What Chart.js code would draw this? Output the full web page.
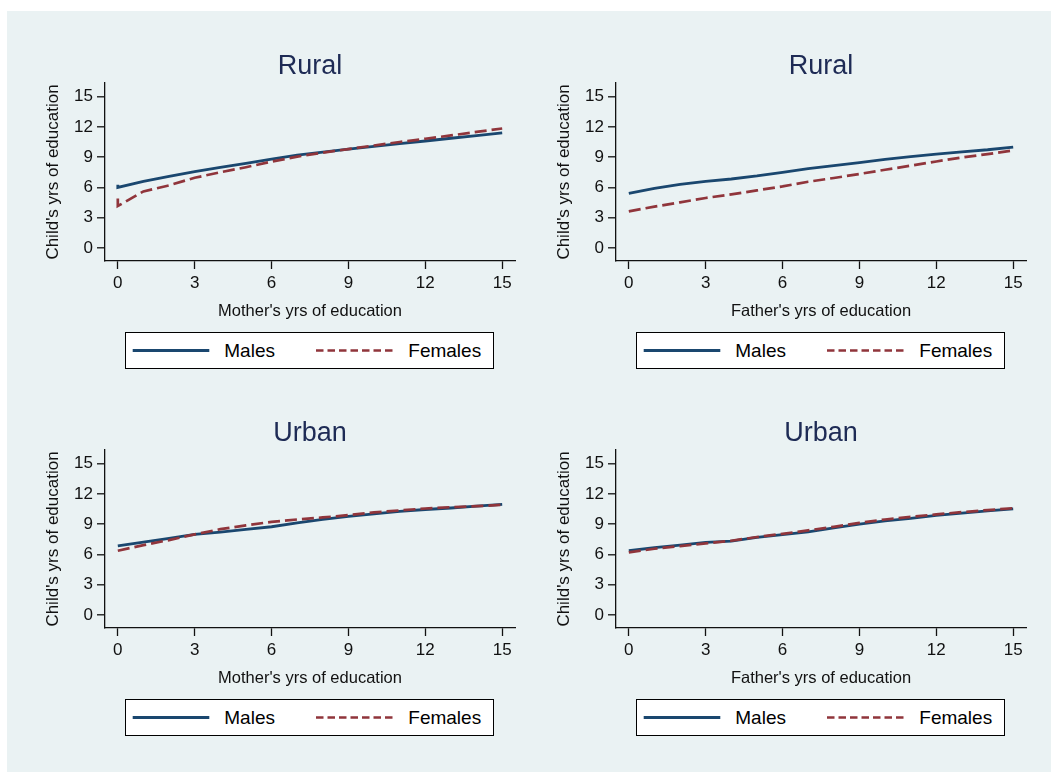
<!DOCTYPE html>
<html>
<head>
<meta charset="utf-8">
<script src="https://cdn.jsdelivr.net/npm/chart.js@4.4.1/dist/chart.umd.min.js"></script>
<style>
  body { margin: 0; background: #fff; width: 1051px; height: 773px; overflow: hidden; position: relative;
         font-family: "Liberation Sans", Arial, sans-serif; }
  #bg { position: absolute; left: 7px; top: 11px; width: 1044px; height: 761px; background: #eaf2f3; }
  canvas { position: absolute; }
  .legend { position: absolute; width: 367px; height: 35px; background: #fff; border: 1px solid #000; }
  .legend svg { position: absolute; left: 0; top: 0; }
  .legend span { position: absolute; top: 0; line-height: 35px; font-size: 19px; color: #000; }
</style>
</head>
<body>
<div id="bg"></div>
<canvas id="c1" width="490" height="290" style="left:40px;top:40px"></canvas>
<canvas id="c2" width="490" height="290" style="left:551px;top:40px"></canvas>
<canvas id="c3" width="490" height="290" style="left:40px;top:407px"></canvas>
<canvas id="c4" width="490" height="290" style="left:551px;top:407px"></canvas>
<div id="legends"></div>
<script>
// Parent's years of schooling (x) and predicted child's years of schooling (y)
const years = [0, 1, 2, 3, 4, 5, 6, 7, 8, 9, 10, 11, 12, 13, 14, 15];
const ruralMotherYears = [0, 0, 1, 2, 3, 4, 5, 6, 7, 8, 9, 10, 11, 12, 13, 14, 15];
const xTicks = [0, 3, 6, 9, 12, 15];
const yTicks = [0, 3, 6, 9, 12, 15];

const ruralMotherMales   = [6.25, 6.0, 6.6, 7.08, 7.55, 7.98, 8.37, 8.8, 9.2, 9.5, 9.8, 10.07, 10.33, 10.6, 10.87, 11.13, 11.4];
const ruralMotherFemales = [4.9, 4.15, 5.6, 6.2, 6.95, 7.5, 8.0, 8.55, 9.05, 9.45, 9.8, 10.15, 10.5, 10.82, 11.15, 11.5, 11.84];
const ruralFatherMales   = [5.41, 5.9, 6.3, 6.6, 6.83, 7.13, 7.49, 7.85, 8.15, 8.45, 8.78, 9.04, 9.3, 9.53, 9.73, 10.0];
const ruralFatherFemales = [3.62, 4.09, 4.52, 4.95, 5.3, 5.7, 6.1, 6.56, 6.93, 7.33, 7.75, 8.15, 8.57, 8.97, 9.3, 9.66];
const urbanMotherMales   = [6.85, 7.22, 7.58, 7.98, 8.21, 8.48, 8.74, 9.13, 9.46, 9.76, 10.02, 10.26, 10.45, 10.6, 10.78, 10.95];
const urbanMotherFemales = [6.36, 6.92, 7.42, 7.98, 8.5, 8.87, 9.23, 9.46, 9.66, 9.89, 10.16, 10.36, 10.55, 10.68, 10.78, 10.91];
const urbanFatherMales   = [6.36, 6.66, 6.92, 7.19, 7.32, 7.68, 7.95, 8.24, 8.63, 9.0, 9.33, 9.56, 9.86, 10.09, 10.32, 10.52];
const urbanFatherFemales = [6.2, 6.56, 6.82, 7.09, 7.35, 7.72, 8.04, 8.38, 8.73, 9.13, 9.46, 9.72, 9.96, 10.19, 10.39, 10.58];

const seriesNames = ['Males', 'Females'];
const FONT = '"Liberation Sans", Arial, sans-serif';
const NAVY = '#1a476f';
const MAROON = '#90353b';
const INK = '#111';

function points(xs, ys) {
  return xs.map((x, i) => ({ x: x, y: ys[i] }));
}

function panel(id, title, xTitle, xs, males, females) {
  new Chart(document.getElementById(id), {
    type: 'line',
    data: {
      datasets: [
        { label: seriesNames[0], data: points(xs, males), borderColor: NAVY, borderWidth: 2.8,
          pointRadius: 0, tension: 0, order: 1 },
        { label: seriesNames[1], data: points(xs, females), borderColor: MAROON, borderWidth: 2.7,
          borderDash: [12, 5], pointRadius: 0, tension: 0, order: 0 }
      ]
    },
    options: {
      responsive: false,
      animation: false,
      devicePixelRatio: 1,
      layout: { padding: { left: 0, right: 15, top: 0, bottom: 0 } },
      plugins: {
        legend: { display: false },
        tooltip: { enabled: false },
        title: {
          display: true, text: title, color: '#1e2b55',
          fullSize: false, // centre the title over the plot area
          font: { family: FONT, size: 27, weight: 'normal', lineHeight: 1.2 },
          padding: { top: 9.9, bottom: 0.7 }
        }
      },
      scales: {
        x: {
          type: 'linear', min: -0.5, max: 15.5,
          afterBuildTicks: s => { s.ticks = xTicks.map(v => ({ value: v })); },
          afterFit: s => { s.height = 69; },
          grid: { drawOnChartArea: false, drawTicks: true, tickLength: 8, tickColor: INK, tickWidth: 1.3 },
          border: { display: true, color: INK, width: 1.3 },
          ticks: { color: INK, font: { family: FONT, size: 17 }, padding: 4, maxRotation: 0 },
          title: { display: true, text: xTitle, color: INK,
                   font: { family: FONT, size: 16.5, lineHeight: 1.2 }, padding: { top: 0, bottom: 9.1 } }
        },
        y: {
          type: 'linear', min: -1.3, max: 16.35,
          afterBuildTicks: s => { s.ticks = yTicks.map(v => ({ value: v })); },
          afterFit: s => { s.width = 65; },
          grid: { color: '#eaf2f3', lineWidth: 1.6, drawTicks: true, tickLength: 8, tickColor: INK, tickWidth: 1.3 },
          border: { display: true, color: INK, width: 1.3 },
          ticks: { color: INK, font: { family: FONT, size: 17 }, padding: 4 },
          title: { display: true, text: "Child's yrs of education", color: INK,
                   font: { family: FONT, size: 17, lineHeight: 1.2 }, padding: { top: 3.2, bottom: 0 } }
        }
      }
    }
  });
}

panel('c1', 'Rural', "Mother's yrs of education", ruralMotherYears, ruralMotherMales, ruralMotherFemales);
panel('c2', 'Rural', "Father's yrs of education", years, ruralFatherMales, ruralFatherFemales);
panel('c3', 'Urban', "Mother's yrs of education", years, urbanMotherMales, urbanMotherFemales);
panel('c4', 'Urban', "Father's yrs of education", years, urbanFatherMales, urbanFatherFemales);

// Legend boxes under each panel
const legendSpots = [[125, 331.7], [636, 331.7], [125, 699], [636, 699]];
const holder = document.getElementById('legends');
legendSpots.forEach(([left, top]) => {
  const box = document.createElement('div');
  box.className = 'legend';
  box.style.left = left + 'px';
  box.style.top = top + 'px';
  box.innerHTML =
    '<svg width="367" height="35">' +
    '<line x1="6.7" y1="17.5" x2="83.3" y2="17.5" stroke="' + NAVY + '" stroke-width="3"/>' +
    '<line x1="190" y1="17.5" x2="266.7" y2="17.5" stroke="' + MAROON + '" stroke-width="2.6" stroke-dasharray="7.5 4"/>' +
    '</svg>' +
    '<span style="left:98.3px">' + seriesNames[0] + '</span>' +
    '<span style="left:282.3px">' + seriesNames[1] + '</span>';
  holder.appendChild(box);
});
</script>
</body>
</html>
